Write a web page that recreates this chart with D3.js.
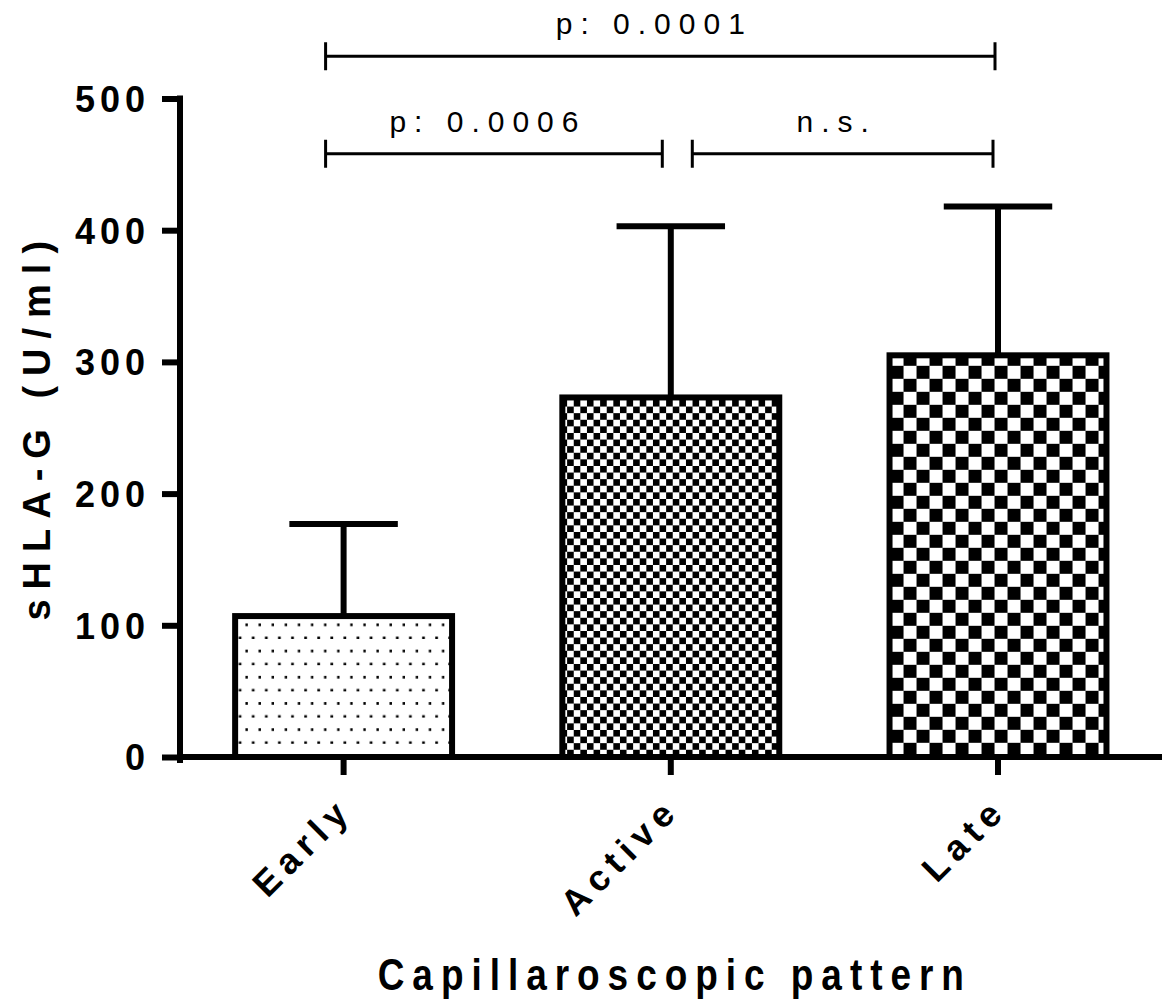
<!DOCTYPE html>
<html>
<head>
<meta charset="utf-8">
<script src="https://cdn.jsdelivr.net/npm/d3@7"></script>
<style>
  body { margin: 0; background: #fff; }
  svg { display: block; font-family: "Liberation Sans", Arial, sans-serif; }
</style>
</head>
<body>
<script>
// Data
const categories = ["Early", "Active", "Late"];
const means = [107, 273, 305];
const sds = [70, 130, 113];
const yTicks = [0, 100, 200, 300, 400, 500];
const bracketFrom = ["Early", "Active", "Early"];
const bracketTo = ["Active", "Late", "Late"];
const bracketLevel = [458, 458, 532];
const bracketLabel = ["p: 0.0006", "n.s.", "p: 0.0001"];

// Set up dimensions
const margin = { top: 98.5, right: 0.4, bottom: 250, left: 180 };
const width = 1162 - margin.left - margin.right;
const height = 1007 - margin.top - margin.bottom;

const svg = d3.select("body")
              .append("svg")
              .attr("width", 1162)
              .attr("height", 1007);

const defs = svg.append("defs");
const g = svg.append("g")
             .attr("transform", `translate(${margin.left},${margin.top})`);

const data = categories.map((c, i) => ({ cat: c, mean: means[i], sd: sds[i] }));

// Scales
const x = d3.scaleBand()
            .domain(categories)
            .range([0, width])
            .paddingInner(0.337)
            .paddingOuter(0.1685);

const y = d3.scaleLinear()
            .domain([0, 500])
            .range([height, 0]);

const bw = x.bandwidth();

// Fill patterns, one per bar, anchored at the bar's inner corner
function makePattern(id, d) {
  const px = margin.left + x(d.cat) + 3;
  const py = margin.top + y(d.mean) + 3;
  let p;
  if (d.cat === "Early") {
    p = defs.append("pattern").attr("id", id)
            .attr("patternUnits", "userSpaceOnUse")
            .attr("x", px).attr("y", py)
            .attr("width", 13.1).attr("height", 26.2);
    p.append("rect").attr("width", 13.1).attr("height", 26.2).attr("fill", "#fff");
    p.append("rect").attr("x", 10.7).attr("y", 10.7).attr("width", 2.7).attr("height", 2.7).attr("fill", "#000");
    p.append("rect").attr("x", 4).attr("y", 23.8).attr("width", 2.7).attr("height", 2.7).attr("fill", "#000");
  } else {
    const s = d.cat === "Active" ? 6.6 : 13;
    p = defs.append("pattern").attr("id", id)
            .attr("patternUnits", "userSpaceOnUse")
            .attr("x", px).attr("y", py)
            .attr("width", 2 * s).attr("height", 2 * s);
    p.append("rect").attr("width", 2 * s).attr("height", 2 * s).attr("fill", "#fff");
    p.append("rect").attr("x", s).attr("y", 0).attr("width", s).attr("height", s).attr("fill", "#000");
    p.append("rect").attr("x", 0).attr("y", s).attr("width", s).attr("height", s).attr("fill", "#000");
  }
}
data.forEach((d, i) => makePattern("pat" + i, d));

// Error bars (upper only)
const eb = g.append("g")
            .attr("stroke", "#000")
            .attr("stroke-width", 6);

eb.selectAll("line.stem")
  .data(data)
  .join("line")
  .attr("class", "stem")
  .attr("x1", d => x(d.cat) + bw / 2)
  .attr("x2", d => x(d.cat) + bw / 2)
  .attr("y1", d => y(d.mean))
  .attr("y2", d => y(d.mean + d.sd));

eb.selectAll("line.cap")
  .data(data)
  .join("line")
  .attr("class", "cap")
  .attr("x1", d => x(d.cat) + bw / 4)
  .attr("x2", d => x(d.cat) + bw * 3 / 4)
  .attr("y1", d => y(d.mean + d.sd))
  .attr("y2", d => y(d.mean + d.sd));

// Bars
g.selectAll("rect.bar")
 .data(data)
 .join("rect")
 .attr("class", "bar")
 .attr("x", d => x(d.cat))
 .attr("width", bw)
 .attr("y", d => y(d.mean))
 .attr("height", d => height - y(d.mean))
 .attr("fill", (d, i) => `url(#pat${i})`)
 .attr("stroke", "#000")
 .attr("stroke-width", 6);

// Y axis
const yAxis = g.append("g")
               .call(d3.axisLeft(y)
                       .tickValues(yTicks)
                       .tickSize(18)
                       .tickSizeOuter(0)
                       .tickPadding(12));
yAxis.select(".domain")
     .attr("stroke-width", 6)
     .attr("stroke-linecap", "square")
     .attr("d", `M0,${y(500)}V${height + 3}`);
yAxis.selectAll(".tick line").attr("stroke-width", 6);
yAxis.selectAll(".tick text")
     .attr("fill", "#000")
     .style("font-size", "36px")
     .style("font-weight", "bold")
     .style("letter-spacing", "5px")
     .attr("dy", "0.36em");

// X axis
const xAxis = g.append("g")
               .attr("transform", `translate(0,${height})`)
               .call(d3.axisBottom(x)
                       .tickSize(18)
                       .tickSizeOuter(0));
xAxis.select(".domain")
     .attr("stroke-width", 6)
     .attr("d", `M-3,0H${width + 1}`);
xAxis.selectAll(".tick text")
     .attr("fill", "#000")
     .attr("x", 0)
     .attr("y", 0)
     .attr("dy", "0.35em")
     .attr("transform", "translate(2,46) rotate(-45)")
     .style("text-anchor", "end")
     .style("font-size", "36px")
     .style("font-weight", "bold")
     .style("letter-spacing", "7px");
xAxis.selectAll(".tick line").attr("stroke-width", 6);

// Axis titles
svg.append("text")
   .attr("transform", `translate(50,${margin.top + height * 0.5 - 2}) rotate(-90)`)
   .attr("text-anchor", "middle")
   .style("font-size", "38px")
   .style("font-weight", "bold")
   .style("letter-spacing", "10px")
   .text("sHLA-G (U/ml)");

svg.append("text")
   .attr("transform", `translate(${margin.left + width / 2 + 4},990) scale(0.84,1)`)
   .attr("text-anchor", "middle")
   .style("font-size", "44px")
   .style("font-weight", "bold")
   .style("letter-spacing", "9.5px")
   .text("Capillaroscopic pattern");

// Significance brackets
const inset0 = [-18, 21.5, -18];
const inset1 = [-8.5, -5, -3];
const br = g.append("g");
bracketLabel.forEach((lab, i) => {
  const x0 = x(bracketFrom[i]) + bw / 2 + inset0[i];
  const x1 = x(bracketTo[i]) + bw / 2 + inset1[i];
  const yy = y(bracketLevel[i]);
  br.append("path")
    .attr("d", `M${x0},${yy - 14}V${yy + 14}M${x0},${yy}H${x1}M${x1},${yy - 14}V${yy + 14}`)
    .attr("fill", "none")
    .attr("stroke", "#000")
    .attr("stroke-width", 3);
  br.append("text")
    .attr("x", (x0 + x1) / 2 - 6)
    .attr("y", yy - 22)
    .attr("text-anchor", "middle")
    .style("font-size", "30px")
    .style("letter-spacing", "8px")
    .text(lab);
});
</script>
</body>
</html>
